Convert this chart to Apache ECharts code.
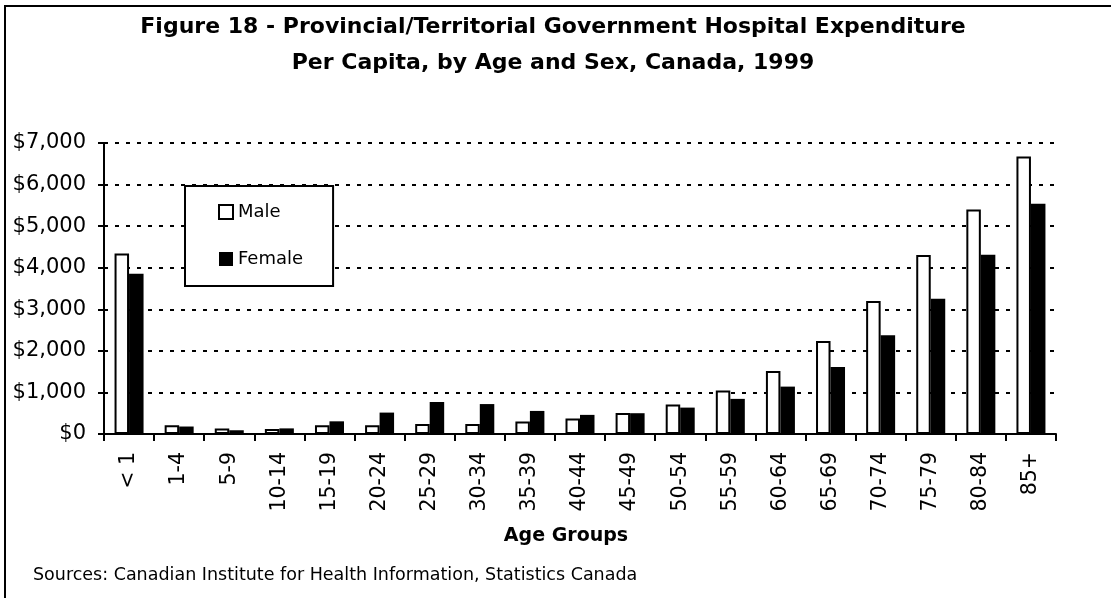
<!DOCTYPE html>
<html>
<head>
<meta charset="utf-8">
<title>Figure 18</title>
<script src="https://cdn.jsdelivr.net/npm/echarts@6/dist/echarts.min.js"></script>
<style>
  html, body { margin: 0; padding: 0; background: #fff; }
  #chart { width: 1111px; height: 598px; }
</style>
</head>
<body>
<div id="chart"></div>
<script>
// age groups on the x axis
const ageGroups = ['< 1', '1-4', '5-9', '10-14', '15-19', '20-24', '25-29', '30-34', '35-39',
  '40-44', '45-49', '50-54', '55-59', '60-64', '65-69', '70-74', '75-79', '80-84', '85+'];

// dollars per capita
const maleValues = [4340, 210, 130, 120, 210, 210, 240, 240, 300, 370, 505, 710, 1045, 1515, 2235, 3200, 4305, 5400, 6675];
const femaleValues = [3855, 180, 90, 135, 305, 515, 770, 720, 555, 460, 500, 635, 845, 1140, 1610, 2375, 3255, 4310, 5540];

const titleLines = ['Figure 18 - Provincial/Territorial Government Hospital Expenditure',
  'Per Capita, by Age and Sex, Canada, 1999'];
const xAxisTitle = 'Age Groups';
const sourceNote = 'Sources: Canadian Institute for Health Information, Statistics Canada';

const FONT = 'DejaVu Sans';

const chart = echarts.init(document.getElementById('chart'));

const option = {
  animation: false,
  backgroundColor: '#fff',
  textStyle: { fontFamily: FONT, color: '#000' },
  title: {
    text: titleLines.join('\n'),
    left: 548,
    top: 4,
    textAlign: 'center',
    textStyle: {
      fontFamily: FONT,
      fontSize: 22,
      fontWeight: 'bold',
      lineHeight: 36,
      color: '#000'
    }
  },
  legend: {
    orient: 'vertical',
    left: 185,
    top: 186,
    padding: [17, 30, 18, 33],
    itemGap: 29,
    itemWidth: 14,
    itemHeight: 14,
    icon: 'rect',
    backgroundColor: '#fff',
    borderColor: '#000',
    borderWidth: 2,
    textStyle: { fontFamily: FONT, fontSize: 18, color: '#000' },
    data: ['Male', 'Female']
  },
  grid: {
    left: 104,
    right: 55,
    top: 143,
    bottom: 164
  },
  xAxis: {
    type: 'category',
    data: ageGroups,
    axisLine: { lineStyle: { color: '#000', width: 2 } },
    axisTick: { show: true, length: 7, lineStyle: { color: '#000', width: 2 } },
    axisLabel: {
      rotate: 90,
      margin: 18,
      fontFamily: FONT,
      fontSize: 20.5,
      color: '#000'
    }
  },
  yAxis: {
    type: 'value',
    min: 0,
    max: 7000,
    interval: 1000,
    axisLine: { show: true, lineStyle: { color: '#000', width: 2 } },
    axisTick: { show: true, length: 6, lineStyle: { color: '#000', width: 2 } },
    axisLabel: {
      margin: 18,
      fontFamily: FONT,
      fontSize: 21,
      color: '#000',
      formatter: v => '$' + v.toLocaleString('en-US')
    },
    splitLine: {
      show: true,
      lineStyle: { color: '#000', width: 2, type: [4, 7] }
    }
  },
  series: [
    {
      name: 'Male',
      type: 'bar',
      data: maleValues,
      barWidth: 14.5,
      barGap: '0%',
      itemStyle: { color: '#fff', borderColor: '#000', borderWidth: 2 }
    },
    {
      name: 'Female',
      type: 'bar',
      data: femaleValues,
      barWidth: 14.5,
      itemStyle: { color: '#000', borderColor: '#000', borderWidth: 0 }
    }
  ],
  graphic: [
    {
      // outer frame, cut by the right and bottom edge like the original
      type: 'rect',
      shape: { x: 5, y: 6, width: 1200, height: 700 },
      style: { fill: 'none', stroke: '#000', lineWidth: 2 },
      silent: true,
      z: -1
    },
    {
      type: 'text',
      x: 566,
      y: 536,
      style: {
        text: xAxisTitle,
        fontFamily: FONT,
        fontSize: 19,
        fontWeight: 'bold',
        fill: '#000',
        align: 'center',
        verticalAlign: 'middle'
      }
    },
    {
      type: 'text',
      x: 33,
      y: 575,
      style: {
        text: sourceNote,
        fontFamily: FONT,
        fontSize: 17.5,
        fill: '#000',
        align: 'left',
        verticalAlign: 'middle'
      }
    }
  ]
};

chart.setOption(option);
</script>
</body>
</html>
